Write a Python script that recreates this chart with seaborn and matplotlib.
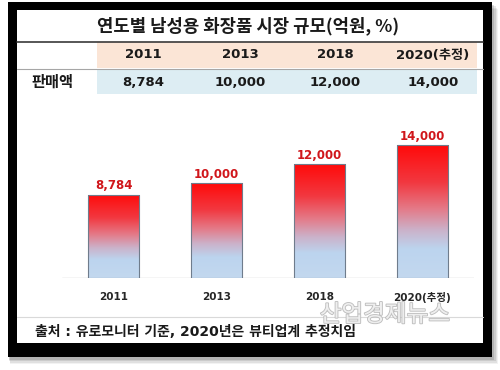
import numpy as np
import matplotlib
matplotlib.use("Agg")
import matplotlib.pyplot as plt
import matplotlib.patheffects as pe
from matplotlib.colors import LinearSegmentedColormap
from matplotlib.patches import Rectangle
import seaborn as sns

# data
years = ["2011", "2013", "2018", "2020(추정)"]
sales = [8784, 10000, 12000, 14000]
title = "연도별 남성용 화장품 시장 규모(억원, %)"
row_label = "판매액"
source = "출처 : 유로모니터 기준, 2020년은 뷰티업계 추정치임"
watermark = "산업경제뉴스"

sns.set_style("white")
#DejaVu for the digits (wide, like the original), Noto CJK for the hangul
plt.rcParams['font.family'] = ['DejaVu Sans', 'Noto Sans CJK KR']
KR = ['Noto Sans CJK KR', 'DejaVu Sans']

W, H = 500, 370
fig = plt.figure(figsize=(5, 3.7), dpi=100)

#background axes in pixel coordinates for the frame and the table
bg = fig.add_axes([0, 0, 1, 1], zorder=0)
bg.set_xlim(0, W)
bg.set_ylim(H, 0)
bg.axis("off")

#soft drop shadow, then black frame, then white panel
for k, a in enumerate([0.05, 0.07, 0.09, 0.12]):
    off = 7 - k * 1.5
    bg.add_patch(Rectangle((8 + off * 0.3, 2 + off), 484 + off * 0.6, 355, color="black", alpha=a, lw=0))
bg.add_patch(Rectangle((8, 2), 484, 355, color="black", lw=0))
bg.add_patch(Rectangle((17, 10), 466, 333, color="white", lw=0))

#table
col_x = [143, 240, 335, 433]
bg.text(248, 26, title, ha="center", va="center", fontsize=12.8, fontweight="bold",
        color="#1a1a1a", family=KR)
bg.plot([17, 483], [41.5, 41.5], color="#3a3a3a", lw=1.2)
bg.add_patch(Rectangle((97, 42), 380, 26, color="#FBE5D6", lw=0))
bg.plot([17, 483], [68.5, 68.5], color="#A6A6A6", lw=0.8)
bg.add_patch(Rectangle((97, 69), 380, 25, color="#DDEDF3", lw=0))
for cx, yr, v in zip(col_x, years, sales):
    bg.text(cx, 55, yr, ha="center", va="center", fontsize=9.5, fontweight="bold", color="#1a1a1a")
    bg.text(cx, 82, f"{v:,}", ha="center", va="center", fontsize=9.5, fontweight="bold", color="#1a1a1a")
bg.text(52, 82, row_label, ha="center", va="center", fontsize=11, fontweight="bold",
        color="#1a1a1a", family=KR)

#footer
bg.plot([17, 483], [317, 317], color="#D9D9D9", lw=0.8)
bg.text(35, 332, source, ha="left", va="center", fontsize=10, fontweight="bold", color="#1a1a1a")

#bar chart
ax = fig.add_axes([62 / W, (H - 278) / H, 412 / W, 158 / H], zorder=1)
ax.set_facecolor("none")
sns.barplot(x=years, y=sales, ax=ax, width=0.5, color="#FF0000", saturation=1)

grad_cmap = LinearSegmentedColormap.from_list(
    "redblue",
    [(0.0, "#C3D8EF"), (0.22, "#BCD4EE"), (0.36, "#CBB2CA"),
     (0.52, "#E47A88"), (0.72, "#F23840"), (1.0, "#FF0A0A")])
grad = np.linspace(0, 1, 256).reshape(-1, 1)

for p in ax.patches:
    x0, y0 = p.get_x(), p.get_y()
    w, h = p.get_width(), p.get_height()
    #small shadow on the right side
    ax.add_patch(Rectangle((x0 + 0.012, y0), w, h - 120, color="#000000", alpha=0.18, lw=0, zorder=1))
    img = ax.imshow(grad, extent=(x0, x0 + w, y0, y0 + h), origin="lower",
                    aspect="auto", cmap=grad_cmap, zorder=2)
    img.set_clip_path(p)
    p.set_facecolor("none")
    p.set_edgecolor("#6F7C8C")
    p.set_linewidth(0.8)
    p.set_zorder(3)

for i, v in enumerate(sales):
    ax.annotate(f"{v:,}", (i, v), xytext=(0, 1.5), textcoords="offset points",
                ha="center", va="bottom", fontsize=8.5, fontweight="bold", color="#D0161B")

ax.set_xlim(-0.5, 3.5)
ax.set_ylim(0, 16632)
ax.axhline(0, color="#D0D0D0", lw=1, zorder=0)
sns.despine(ax=ax, left=True, bottom=True)
ax.set_yticks([])
ax.set_xlabel("")
ax.set_ylabel("")
ax.tick_params(axis="x", length=0, pad=10)
for lab in ax.get_xticklabels():
    lab.set_fontsize(7.5)
    lab.set_fontweight("bold")
    lab.set_color("#262626")

#watermark
fig.text(385 / W, 1 - 315 / H, watermark, ha="center", va="center", fontsize=17,
         color="#F4F4F4", alpha=0.9, zorder=5, family=KR,
         path_effects=[pe.withStroke(linewidth=1.3, foreground="#B8B8B8")])

fig.savefig("out.png", dpi=100)
